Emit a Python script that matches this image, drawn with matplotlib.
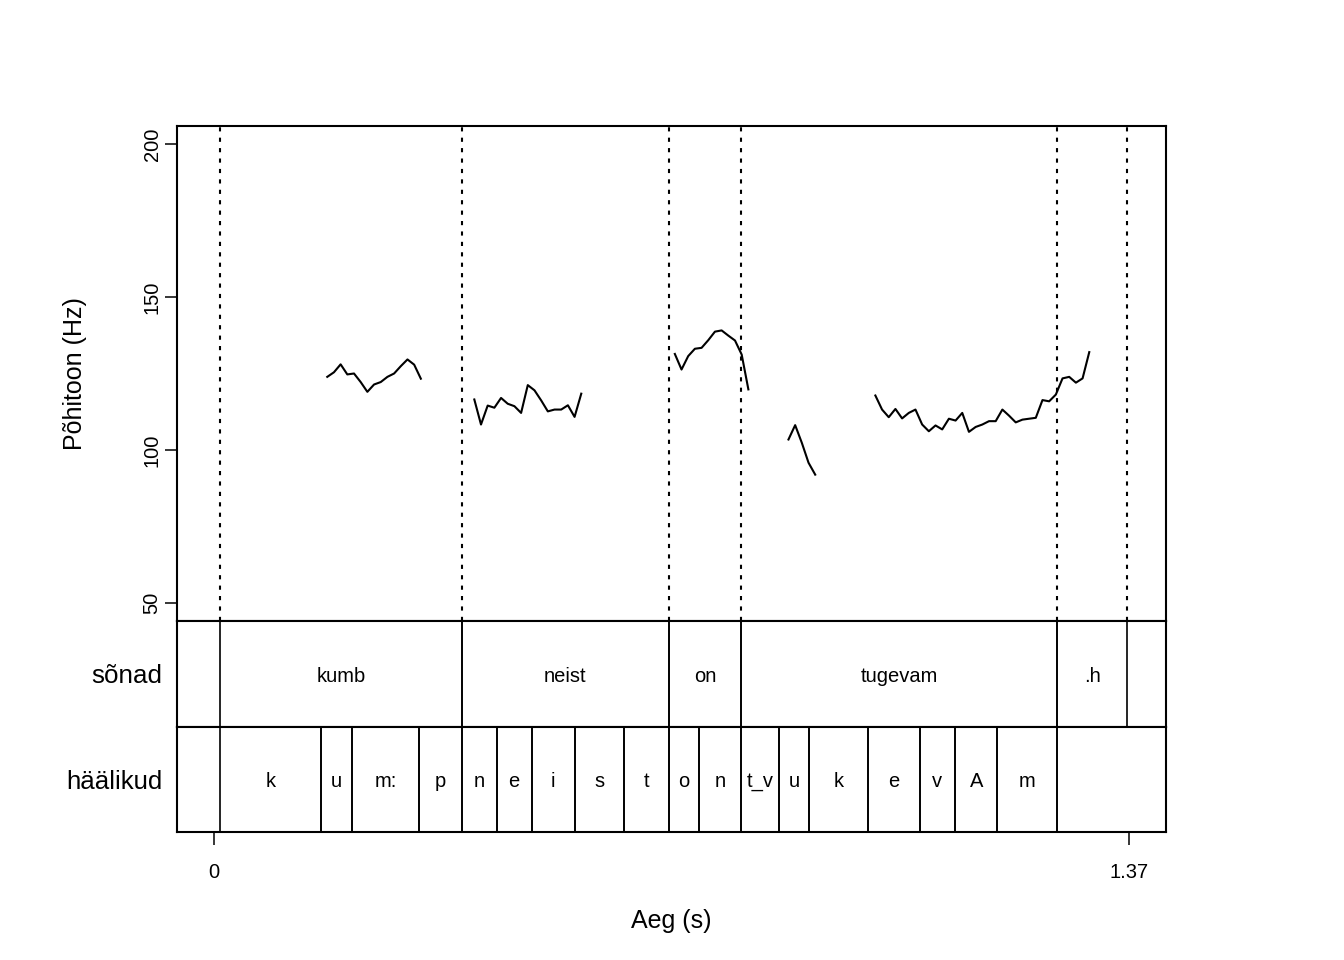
import matplotlib
matplotlib.use("Agg")
import matplotlib.pyplot as plt

plt.rcParams['font.family'] = ['Liberation Sans', 'DejaVu Sans']

# F0 contour (s, Hz), one list per voiced stretch
t1 = [0.17, 0.18, 0.19, 0.20, 0.21, 0.22, 0.23, 0.24, 0.25, 0.26, 0.27, 0.28, 0.29, 0.30, 0.31]
f1 = [123.9, 125.4, 128.0, 124.7, 125.0, 122.2, 119.0, 121.4, 122.2, 123.9, 125.0, 127.4, 129.6, 127.9, 123.3]
t2 = [0.39, 0.40, 0.41, 0.42, 0.43, 0.44, 0.45, 0.46, 0.47, 0.48, 0.49, 0.50, 0.51, 0.52, 0.53, 0.54, 0.55]
f2 = [116.5, 108.3, 114.5, 113.8, 117.0, 115.1, 114.3, 112.1, 121.2, 119.5, 116.2, 112.6, 113.2, 113.2, 114.6, 110.8, 118.4]
t3 = [0.69, 0.70, 0.71, 0.72, 0.73, 0.74, 0.75, 0.76, 0.77, 0.78, 0.79, 0.80]
f3 = [131.4, 126.3, 130.7, 133.1, 133.4, 135.9, 138.7, 139.1, 137.4, 135.8, 131.2, 119.8]
t4 = [0.86, 0.87, 0.88, 0.89, 0.90]
f4 = [103.4, 108.1, 102.3, 95.8, 91.9]
t5 = [0.99, 1.00, 1.01, 1.02, 1.03, 1.04, 1.05, 1.06, 1.07, 1.08, 1.09,
      1.10, 1.11, 1.12, 1.13, 1.14, 1.15, 1.16, 1.17, 1.18, 1.19, 1.20,
      1.21, 1.22, 1.23, 1.24, 1.25, 1.26, 1.27, 1.28, 1.29, 1.30, 1.31]
f5 = [117.8, 113.2, 110.7, 113.4, 110.3, 112.1, 113.2, 108.3, 106.1, 108.0, 106.7,
      110.2, 109.6, 112.1, 105.9, 107.5, 108.3, 109.4, 109.4, 113.2, 111.2, 109.0,
      109.9, 110.2, 110.5, 116.3, 115.9, 118.1, 123.4, 123.9, 122.0, 123.4, 132.0]
segments = [(t1, f1), (t2, f2), (t3, f3), (t4, f4), (t5, f5)]

# word tier
words = ["kumb", "neist", "on", "tugevam", ".h"]
word_start = [0.0097, 0.3719, 0.6809, 0.7895, 1.2619]
word_end = [0.3719, 0.6809, 0.7895, 1.2619, 1.3665]

# phone tier
phones = ["k", "u", "m:", "p", "n", "e", "i", "s", "t", "o", "n", "t_v", "u", "k", "e", "v", "A", "m", ""]
phone_bounds = [0.0097, 0.1607, 0.2066, 0.3076, 0.3719, 0.4233, 0.4756, 0.5404, 0.6136, 0.6809,
                0.7262, 0.7895, 0.8457, 0.8906, 0.9794, 1.0561, 1.1094, 1.1722, 1.2619, 1.4223]

xticks = [0, 1.37]
yticks = [50, 100, 150, 200]

xlim = (-0.0548, 1.4248)
ylim = (44, 206)

fig = plt.figure(figsize=(13.44, 9.6), dpi=100)
L, W = 177 / 1344, (1166 - 177) / 1344
ax = fig.add_axes([L, 1 - 621 / 960, W, 495 / 960])
axw = fig.add_axes([L, 1 - 727 / 960, W, 106 / 960])
axp = fig.add_axes([L, 1 - 832 / 960, W, 105 / 960])

# pitch panel
for t, f in segments:
    ax.plot(t, f, color='black', lw=1.5)
for b in sorted(set(word_start + word_end)):
    ax.axvline(b, color='black', lw=1.5, linestyle=(0, (2, 3)))
ax.set_xlim(*xlim)
ax.set_ylim(*ylim)
ax.set_xticks([])
ax.set_yticks(yticks)
ax.set_yticklabels([str(v) for v in yticks], rotation=90, va='center', fontsize=14.5)
ax.tick_params(axis='y', length=9, width=1.1, pad=2)

# word panel
for s, e, w in zip(word_start, word_end, words):
    axw.axvline(s, color='black', lw=1.2)
    axw.axvline(e, color='black', lw=1.2)
    axw.text((s + e) / 2, 0.48, w, ha='center', va='center', fontsize=14.5)
axw.set_xlim(*xlim)
axw.set_ylim(0, 1)
axw.set_xticks([])
axw.set_yticks([])

# phone panel
for i, p in enumerate(phones):
    s, e = phone_bounds[i], phone_bounds[i + 1]
    axp.axvline(s, color='black', lw=1.2)
    if e < 1.4:
        axp.axvline(e, color='black', lw=1.2)
    axp.text((s + e) / 2, 0.48, p, ha='center', va='center', fontsize=14.5)
axp.set_xlim(*xlim)
axp.set_ylim(0, 1)
axp.set_yticks([])
axp.set_xticks(xticks)
axp.set_xticklabels(["0", "1.37"], fontsize=14.5)
axp.tick_params(axis='x', length=9, width=1.1, pad=13)

for a in (ax, axw, axp):
    for sp in a.spines.values():
        sp.set_linewidth(1.5)

fig.text(75 / 1344, 1 - 374 / 960, "Põhitoon (Hz)", rotation=90, ha='center', va='center', fontsize=18)
fig.text(162 / 1344, 1 - 676 / 960, "sõnad", ha='right', va='center', fontsize=18.7)
fig.text(162 / 1344, 1 - 782 / 960, "häälikud", ha='right', va='center', fontsize=18.6)
fig.text(671.5 / 1344, 1 - 921 / 960, "Aeg (s)", ha='center', va='center', fontsize=18)

fig.savefig("out.png", dpi=100)
